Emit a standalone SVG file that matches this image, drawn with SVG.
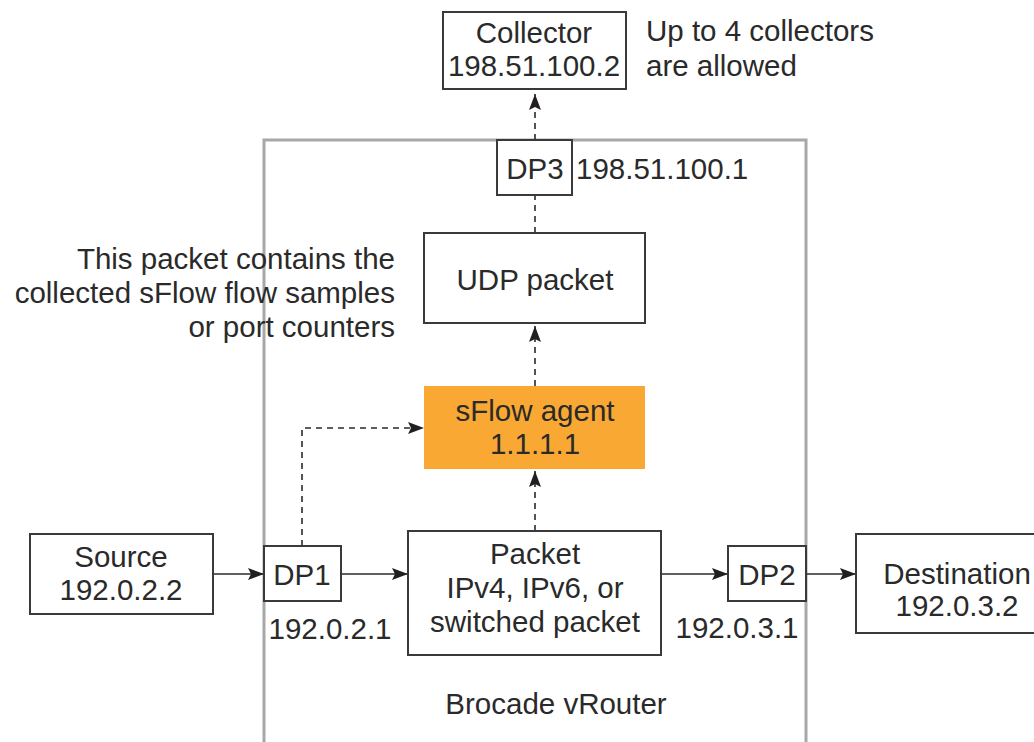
<svg xmlns="http://www.w3.org/2000/svg" width="1034" height="742" viewBox="0 0 1034 742">
<defs>
<marker id="ahb" viewBox="0 0 16 12" refX="16" refY="6" markerWidth="16" markerHeight="12" markerUnits="userSpaceOnUse" orient="auto">
<path d="M0,0 L16,6 L0,12 L3,6 Z" fill="#231f20"/>
</marker>
</defs>
<style>
.box{fill:#fff;stroke:#3a3a3a;stroke-width:2}
.t{font-family:"Liberation Sans",Arial,sans-serif;font-size:29.5px;fill:#2a2a2a}
.m{text-anchor:middle}
.e{text-anchor:end}
.solid{stroke:#2a2a2a;stroke-width:1.6;fill:none}
.dash{stroke:#2a2a2a;stroke-width:1.6;fill:none;stroke-dasharray:6,5}
</style>
<rect width="1034" height="742" fill="#fff"/>
<g id="vrouter">
<rect x="264" y="140" width="542" height="640" fill="none" stroke="#a8a8a8" stroke-width="3"/>
<text class="t m" x="556" y="714">Brocade vRouter</text>
</g>
<g id="connectors">
<line class="dash" x1="535" y1="140" x2="535" y2="94" marker-end="url(#ahb)"/>
<line class="dash" x1="535" y1="233" x2="535" y2="195"/>
<line class="dash" x1="535" y1="386" x2="535" y2="326" marker-end="url(#ahb)"/>
<line class="dash" x1="535" y1="531" x2="535" y2="471" marker-end="url(#ahb)"/>
<polyline class="dash" points="302,546 302,428 424,428" marker-end="url(#ahb)"/>
<line class="solid" x1="213" y1="574" x2="264" y2="574" marker-end="url(#ahb)"/>
<line class="solid" x1="341" y1="574" x2="408" y2="574" marker-end="url(#ahb)"/>
<line class="solid" x1="661" y1="574" x2="728" y2="574" marker-end="url(#ahb)"/>
<line class="solid" x1="806" y1="574" x2="856" y2="574" marker-end="url(#ahb)"/>
</g>
<g id="collector">
<rect class="box" x="443" y="12" width="183" height="77"/>
<text class="t m" x="534" y="43">Collector</text>
<text class="t m" x="534" y="76">198.51.100.2</text>
</g>
<g id="collector-note">
<text class="t" x="646" y="41">Up to 4 collectors</text>
<text class="t" x="646" y="76">are allowed</text>
</g>
<g id="dp3">
<rect class="box" x="497" y="140" width="75" height="55"/>
<text class="t m" x="535" y="179">DP3</text>
<text class="t" x="576" y="179">198.51.100.1</text>
</g>
<g id="udp">
<rect class="box" x="424" y="233" width="221" height="90"/>
<text class="t m" x="535" y="290">UDP packet</text>
</g>
<g id="udp-note">
<text class="t e" x="395" y="269">This packet contains the</text>
<text class="t e" x="395" y="303">collected sFlow flow samples</text>
<text class="t e" x="395" y="337">or port counters</text>
</g>
<g id="agent">
<rect x="424" y="386" width="221" height="83" fill="#f9a933"/>
<text class="t m" x="535" y="421">sFlow agent</text>
<text class="t m" x="535" y="454">1.1.1.1</text>
</g>
<g id="source">
<rect class="box" x="30" y="534" width="183" height="80"/>
<text class="t m" x="121" y="567">Source</text>
<text class="t m" x="121" y="600">192.0.2.2</text>
</g>
<g id="dp1">
<rect class="box" x="264" y="546" width="77" height="55"/>
<text class="t m" x="302" y="585">DP1</text>
<text class="t m" x="330" y="639">192.0.2.1</text>
</g>
<g id="packet">
<rect class="box" x="408" y="531" width="253" height="124"/>
<text class="t m" x="535" y="564">Packet</text>
<text class="t m" x="535" y="598">IPv4, IPv6, or</text>
<text class="t m" x="535" y="632">switched packet</text>
</g>
<g id="dp2">
<rect class="box" x="728" y="546" width="78" height="55"/>
<text class="t m" x="767" y="585">DP2</text>
<text class="t m" x="737" y="638">192.0.3.1</text>
</g>
<g id="destination">
<rect class="box" x="856" y="534" width="190" height="99"/>
<text class="t m" x="957" y="584">Destination</text>
<text class="t m" x="957" y="616">192.0.3.2</text>
</g>
</svg>
